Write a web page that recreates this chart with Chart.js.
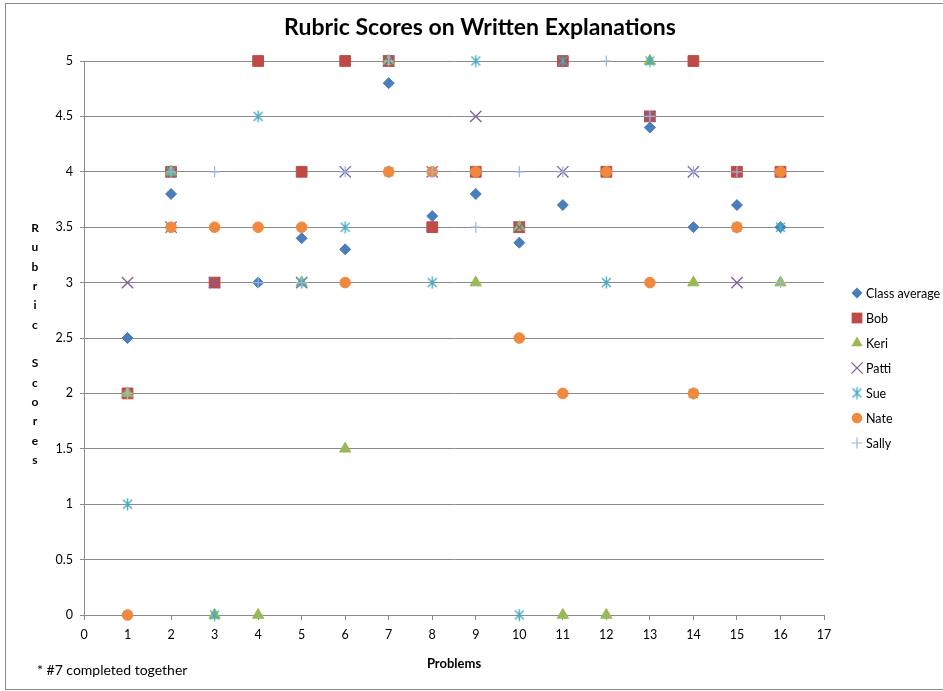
<!DOCTYPE html>
<html>
<head>
<meta charset="utf-8">
<title>Rubric Scores on Written Explanations</title>
<script src="https://cdn.jsdelivr.net/npm/chart.js@4.4.1/dist/chart.umd.min.js"></script>
<style>
  html, body { margin: 0; padding: 0; background: #fff; }
  #wrap { width: 943px; height: 691px; position: relative; }
</style>
</head>
<body>
<div id="wrap"><canvas id="rubricChart"></canvas></div>
<script>
// Dados (null = ponto não visível)
const problems = [1, 2, 3, 4, 5, 6, 7, 8, 9, 10, 11, 12, 13, 14, 15, 16];
const classAverage = [2.5, 3.8, null, 3, 3.4, 3.3, 4.8, 3.6, 3.8, 3.36, 3.7, null, 4.4, 3.5, 3.7, 3.5];
const bob   = [2, 4, 3, 5, 4, 5, 5, 3.5, 4, 3.5, 5, 4, 4.5, 5, 4, 4];
const keri  = [2, 4, 0, 0, 3, 1.5, 5, null, 3, 3.5, 0, 0, 5, 3, null, 3];
const patti = [3, 3.5, 3, null, 3, 4, 5, 4, 4.5, 3.5, 4, null, 4.5, 4, 3, null];
const sue   = [1, 4, 0, 4.5, 3, 3.5, 4, 3, 5, 0, 5, 3, 5, 2, 3.5, 3.5];
const nate  = [0, 3.5, 3.5, 3.5, 3.5, 3, 4, 4, 4, 2.5, 2, 4, 3, 2, 3.5, 4];
const sally = [2, 4, 4, 3, 3, 4, 5, 4, 3.5, 4, 4, 5, 4.5, 4, 4, 3];

const seriesNames = ['Class average', 'Bob', 'Keri', 'Patti', 'Sue', 'Nate', 'Sally'];
const seriesValues = [classAverage, bob, keri, patti, sue, nate, sally];

const FONT = 'Lato, "Open Sans", sans-serif';

// Marcador asterisco do Excel (X + linha vertical)
function makeStar(color) {
    const c = document.createElement('canvas');
    c.width = 13; c.height = 13;
    const g = c.getContext('2d');
    g.strokeStyle = color;
    g.lineWidth = 1.4;
    g.beginPath();
    g.moveTo(2, 2); g.lineTo(11, 11);
    g.moveTo(11, 2); g.lineTo(2, 11);
    g.moveTo(6.5, 0.5); g.lineTo(6.5, 12.5);
    g.stroke();
    return c;
}

const markers = [
    { pointStyle: 'rectRot', radius: 5.5, fill: '#4A7EBB', stroke: '#4A7EBB', width: 1 },
    { pointStyle: 'rect', radius: 7.6, fill: '#BE4B48', stroke: '#BE4B48', width: 1 },
    { pointStyle: 'triangle', radius: 6.5, fill: '#98B954', stroke: '#98B954', width: 1 },
    { pointStyle: 'crossRot', radius: 8, fill: '#7D60A0', stroke: '#7D60A0', width: 1.3 },
    { pointStyle: makeStar('#46AAC5'), radius: 6, fill: '#46AAC5', stroke: '#46AAC5', width: 1 },
    { pointStyle: 'circle', radius: 5.3, fill: '#F0883E', stroke: '#F0883E', width: 1 },
    { pointStyle: 'cross', radius: 5.5, fill: '#97B7E0', stroke: '#97B7E0', width: 1.2 }
];

const datasets = seriesNames.map((name, i) => ({
    label: name,
    data: problems.map((p, j) => ({ x: p, y: seriesValues[i][j] })).filter(d => d.y !== null),
    pointStyle: markers[i].pointStyle,
    pointRadius: markers[i].radius,
    pointBackgroundColor: markers[i].fill,
    pointBorderColor: markers[i].stroke,
    pointBorderWidth: markers[i].width,
    showLine: false,
    clip: false,
    // séries posteriores ficam por cima, como no Excel
    order: seriesNames.length - i
}));

function legendMarker(ctx, m, x, y) {
    ctx.save();
    ctx.fillStyle = m.fill;
    ctx.strokeStyle = m.stroke;
    ctx.lineWidth = m.width;
    ctx.beginPath();
    const r = m.radius;
    if (typeof m.pointStyle !== 'string') {
        ctx.drawImage(m.pointStyle, x - 6.5, y - 6.5);
    } else if (m.pointStyle === 'rectRot') {
        ctx.moveTo(x, y - r); ctx.lineTo(x + r, y); ctx.lineTo(x, y + r); ctx.lineTo(x - r, y);
        ctx.closePath(); ctx.fill();
    } else if (m.pointStyle === 'rect') {
        const s = r * Math.SQRT1_2;
        ctx.fillRect(x - s, y - s, 2 * s, 2 * s);
    } else if (m.pointStyle === 'triangle') {
        ctx.moveTo(x, y - r);
        ctx.lineTo(x + r * 0.866, y + r * 0.5);
        ctx.lineTo(x - r * 0.866, y + r * 0.5);
        ctx.closePath(); ctx.fill();
    } else if (m.pointStyle === 'crossRot') {
        const s = r * Math.SQRT1_2;
        ctx.moveTo(x - s, y - s); ctx.lineTo(x + s, y + s);
        ctx.moveTo(x + s, y - s); ctx.lineTo(x - s, y + s);
        ctx.stroke();
    } else if (m.pointStyle === 'circle') {
        ctx.arc(x, y, r, 0, Math.PI * 2); ctx.fill();
    } else if (m.pointStyle === 'cross') {
        ctx.moveTo(x - r, y); ctx.lineTo(x + r, y);
        ctx.moveTo(x, y - r); ctx.lineTo(x, y + r);
        ctx.stroke();
    }
    ctx.restore();
}

const decorPlugin = {
    id: 'decor',
    beforeDraw(chart) {
        const ctx = chart.ctx;
        ctx.save();
        ctx.fillStyle = '#fff';
        ctx.fillRect(0, 0, chart.width, chart.height);
        ctx.strokeStyle = '#8a8a8a';
        ctx.lineWidth = 1;
        ctx.strokeRect(5.5, 3.5, chart.width + 10, chart.height - 5);
        ctx.restore();
    },
    afterDraw(chart) {
        const ctx = chart.ctx;
        ctx.save();
        ctx.fillStyle = '#000';
        ctx.textBaseline = 'middle';

        // título
        ctx.font = 'bold 23px ' + FONT;
        ctx.textAlign = 'center';
        ctx.fillText('Rubric Scores on Written Explanations', 480, 28);

        // título do eixo Y, letra por letra
        ctx.font = 'bold 12px ' + FONT;
        const letters = 'Rubric Scores'.split('');
        letters.forEach((ch, i) => {
            if (ch !== ' ') ctx.fillText(ch, 35, 228 + i * 19.33);
        });

        // título do eixo X
        const area = chart.chartArea;
        ctx.font = 'bold 13px ' + FONT;
        ctx.fillText('Problems', (area.left + area.right) / 2, 664);

        // nota de rodapé
        ctx.font = '14px ' + FONT;
        ctx.textAlign = 'left';
        ctx.fillText('* #7 completed together', 37, 670);

        // legenda
        ctx.font = '12.5px ' + FONT;
        seriesNames.forEach((name, i) => {
            const y = 293 + i * 25;
            legendMarker(ctx, markers[i], 857, y);
            ctx.fillStyle = '#000';
            ctx.fillText(name, 866, y + 1);
        });
        ctx.restore();
    }
};

new Chart(document.getElementById('rubricChart'), {
    type: 'scatter',
    data: { datasets: datasets },
    options: {
        responsive: true,
        maintainAspectRatio: false,
        animation: false,
        events: [],
        layout: {
            autoPadding: false,
            padding: { top: 61, right: 119, bottom: 0, left: 0 }
        },
        plugins: {
            legend: { display: false },
            tooltip: { enabled: false },
            title: { display: false }
        },
        scales: {
            x: {
                type: 'linear',
                min: 0,
                max: 17,
                ticks: { stepSize: 1, color: '#000', font: { family: FONT, size: 12.5 }, padding: 7 },
                grid: { drawOnChartArea: false, color: '#8a8a8a', tickLength: 5 },
                border: { color: '#8a8a8a' },
                afterFit: (scale) => { scale.height = 76; }
            },
            y: {
                type: 'linear',
                min: 0,
                max: 5,
                ticks: {
                    stepSize: 0.5,
                    color: '#000',
                    font: { family: FONT, size: 12.5 },
                    padding: 7,
                    callback: (value) => String(Math.round(value * 10) / 10)
                },
                grid: { color: '#8a8a8a', tickLength: 4 },
                border: { color: '#8a8a8a' },
                afterFit: (scale) => { scale.width = 84; }
            }
        }
    },
    plugins: [decorPlugin]
});
</script>
</body>
</html>
